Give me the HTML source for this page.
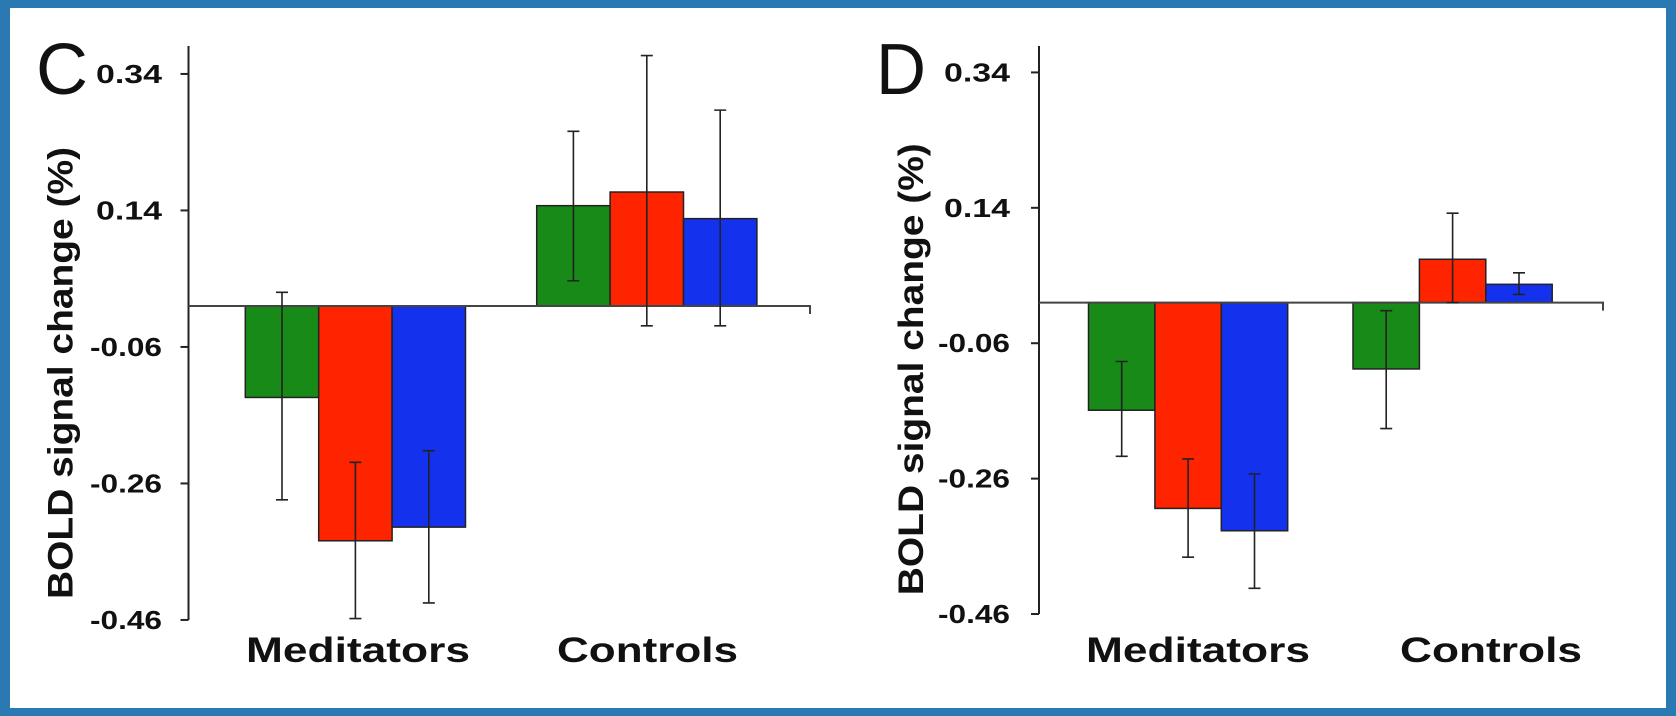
<!DOCTYPE html>
<html><head><meta charset="utf-8"><style>
html,body{margin:0;padding:0;background:#fff}
svg{display:block}
text{font-family:"Liberation Sans",Arial,sans-serif;font-weight:bold;fill:#111}
text.letter{font-weight:normal}
</style></head><body>
<svg id="fig" width="1676" height="716" viewBox="0 0 1676 716" xmlns="http://www.w3.org/2000/svg">
<rect x="0" y="0" width="1676" height="716" fill="#2b79b3"/>
<rect x="10" y="8" width="1656" height="700" fill="#ffffff"/>
</svg>
<script>
const categories = ["Meditators","Controls"];
const seriesColors = ["#178a17","#ff2400","#1432ee"];
const tickValues = [0.34,0.14,-0.06,-0.26,-0.46];
const tickLabels = ["0.34","0.14","-0.06","-0.26","-0.46"];
const panelCValues = [[-0.134,-0.344,-0.324],[0.147,0.167,0.128]];
const panelCErrHi = [[0.020,-0.229,-0.212],[0.256,0.367,0.287]];
const panelCErrLo = [[-0.284,-0.458,-0.435],[0.037,-0.029,-0.029]];
const panelDValues = [[-0.159,-0.304,-0.337],[-0.098,0.064,0.027]];
const panelDErrHi = [[-0.087,-0.231,-0.253],[-0.012,0.132,0.044]];
const panelDErrLo = [[-0.227,-0.376,-0.422],[-0.186,0.000,0.012]];

const NS="http://www.w3.org/2000/svg";
const svg=document.getElementById('fig');
function mk(tag,attrs,parent){const e=document.createElementNS(NS,tag);for(const k in attrs)e.setAttribute(k,attrs[k]);(parent||svg).appendChild(e);return e;}

function drawPanel(p){
  const g=mk('g',{});
  
  
  const y=v=>p.zeroY - v*p.pxPerUnit;
  const L=mk('text',{x:p.letterX,y:94,'font-size':72,'class':'letter',textLength:p.letterW,lengthAdjust:'spacingAndGlyphs'},g);
  L.textContent=p.id;
  
  
  const ax=mk('line',{x1:p.axisX,y1:46,x2:p.axisX,y2:y(-0.46),stroke:'#222','stroke-width':2},g);
  
  
  tickValues.forEach((v,i)=>{
    const t=mk('line',{x1:p.axisX-8,y1:y(v),x2:p.axisX,y2:y(v),stroke:'#222','stroke-width':2},g);
    
    
    const lb=mk('text',{x:p.labelRight,y:y(v)+9,'font-size':26,'text-anchor':'end',textLength:tickLabels[i].length>4?72:66,lengthAdjust:'spacingAndGlyphs'},g);
    lb.textContent=tickLabels[i];
    
    
  });
  const yt=mk('text',{x:0,y:0,'font-size':35,'text-anchor':'middle',textLength:452,lengthAdjust:'spacingAndGlyphs',transform:`translate(${p.axisX-116},${y(-0.06)+26}) rotate(-90)`},g);
  yt.textContent='BOLD signal change (%)';
  
  
  categories.forEach((c,ci)=>{
    p.values[ci].forEach((v,si)=>{
      const x0=p.groupX[ci]+si*p.barW;
      const top=Math.min(y(v),y(0)), h=Math.abs(y(v)-y(0));
      const r=mk('rect',{x:x0,y:top,width:p.barW,height:h,fill:seriesColors[si],stroke:'#222','stroke-width':1.5},g);
      
      
    });
  });
  const z=mk('path',{d:`M${p.axisX} ${y(0)} H${p.zeroEnd} v8`,stroke:'#444','stroke-width':2,fill:'none'},g);
  
  
  categories.forEach((c,ci)=>{
    p.values[ci].forEach((v,si)=>{
      const cx=p.groupX[ci]+si*p.barW+p.barW/2;
      const a=y(p.hi[ci][si]), b=y(p.lo[ci][si]);
      const e=mk('path',{d:`M${cx} ${a} V${b} M${cx-6} ${a} H${cx+6} M${cx-6} ${b} H${cx+6}`,stroke:'#222','stroke-width':1.6,fill:'none'},g);
      
      
    });
  });
  categories.forEach((c,ci)=>{
    const t=mk('text',{x:p.catX[ci],y:662,'font-size':35,textLength:p.catW[ci],lengthAdjust:'spacingAndGlyphs'},g);
    t.textContent=c;
    
    
  });
}
drawPanel({id:'C',letterX:36,letterW:52,axisX:188.5,labelRight:162,zeroY:306,pxPerUnit:682.5,zeroEnd:810,
  groupX:[245.3,536.7],barW:73.4,values:panelCValues,hi:panelCErrHi,lo:panelCErrLo,catX:[246,557],catW:[224,181]});
drawPanel({id:'D',letterX:876,letterW:50,axisX:1039,labelRight:1010,zeroY:302.6,pxPerUnit:677,zeroEnd:1603,
  groupX:[1088.5,1353],barW:66.4,values:panelDValues,hi:panelDErrHi,lo:panelDErrLo,catX:[1086,1400],catW:[224,182]});
</script>
</body></html>
